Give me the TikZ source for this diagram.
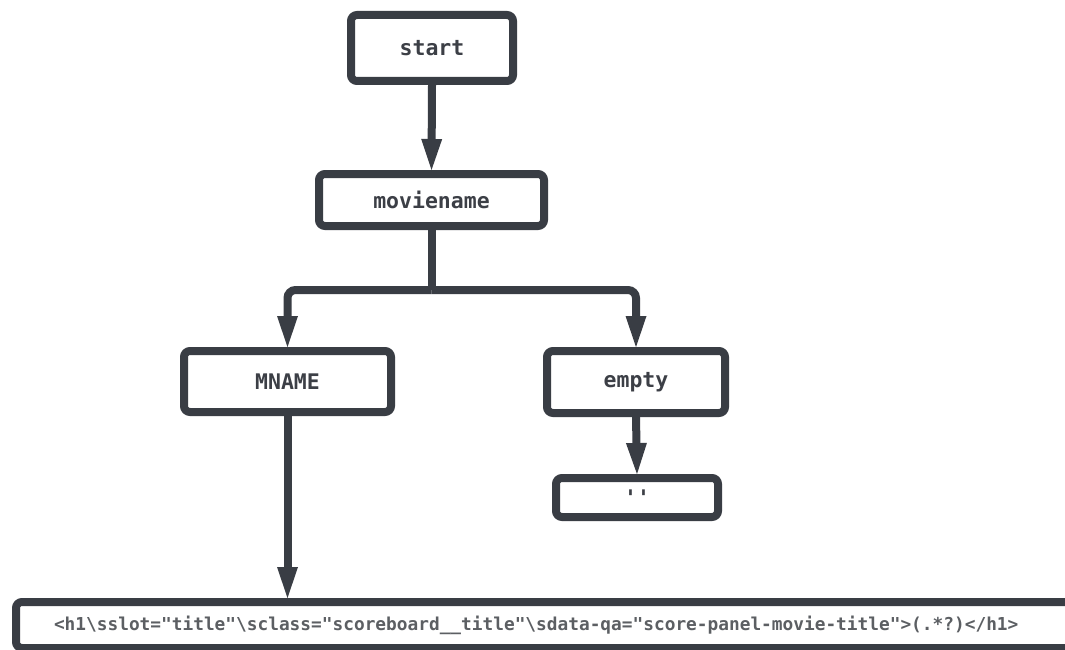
\documentclass[tikz,border=0pt]{standalone}
\usepackage{fontspec}
\newfontfamily\codefont{DejaVu Sans Mono}
\usetikzlibrary{arrows.meta}
\definecolor{ink}{HTML}{393D44}
\definecolor{txt}{HTML}{3C3F46}
\definecolor{txtlight}{HTML}{5C5F63}
\newcommand\bsl{\char92\relax}
\tikzset{
  box/.style={draw=ink, line width=8pt, rounded corners=6pt, fill=white,
    font=\codefont\bfseries\fontsize{21.5}{26}\selectfont, text=txt, inner sep=0pt},
  wire/.style={draw=ink, line width=8pt, rounded corners=8pt},
  conn/.style={wire, -{Triangle[width=21pt,length=31pt,line width=0pt]}},
}
\begin{document}
\begin{tikzpicture}[x=1pt,y=-1pt]
\useasboundingbox (0,0) rectangle (1065,650);
\fill[white] (0,0) rectangle (1065,650);
\node[box, minimum width=162pt, minimum height=66pt] (start) at (432,48) {start};
\node[box, minimum width=225pt, minimum height=52pt] (moviename) at (431.5,200) {moviename};
\node[box, minimum width=207pt, minimum height=61pt] (mname) at (287.5,381.5) {MNAME};
\node[box, minimum width=178pt, minimum height=62pt] (empty) at (636,382) {empty};
\node[box, minimum width=162pt, minimum height=39pt] (quote) at (637,497.5) {\char39\char39};
\node[box, anchor=west, text width=984pt, align=left, inner xsep=38pt, minimum height=46pt,
  font=\codefont\bfseries\fontsize{17.8}{20}\selectfont, text=txtlight] (regex) at (12,625)
  {<h1\bsl{}sslot="title"\bsl{}sclass="scoreboard\char95\char95title"\bsl{}sdata-qa="score-panel-movie-title">(.*?)</h1>};
\coordinate (junc) at (431.5,290);
\draw[conn] (start.south) -- (moviename.north);
\draw[wire] (moviename.south) -- (junc);
\draw[conn] (junc) -| (mname.north);
\draw[conn] (junc) -| (empty.north);
\draw[conn] (empty.south) -- (quote.north);
\draw[conn] (mname.south) -- (mname.south |- regex.north);
\end{tikzpicture}
\end{document}
